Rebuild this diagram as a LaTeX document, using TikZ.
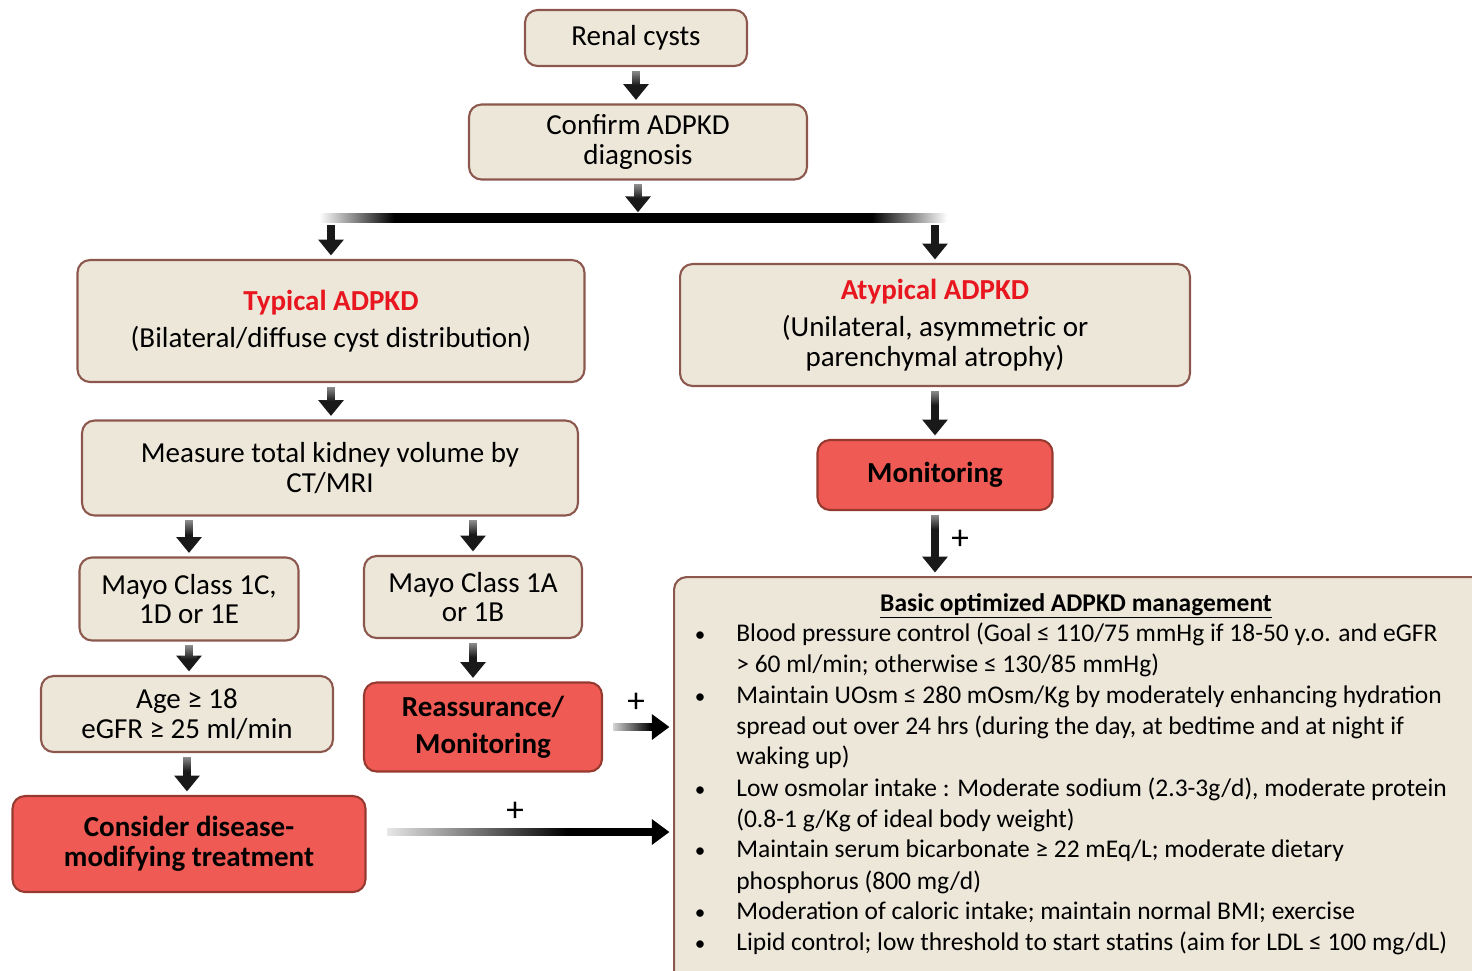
\documentclass[tikz,border=0pt]{standalone}
\usepackage{fontspec}
\setmainfont{Carlito}
\usepackage{tikz}
\usetikzlibrary{arrows.meta,positioning,fadings,calc}
\definecolor{boxfill}{RGB}{237,231,218}
\definecolor{boxline}{RGB}{140,88,78}
\definecolor{redfill}{RGB}{240,90,84}
\definecolor{redline}{RGB}{150,58,48}
\definecolor{titlered}{RGB}{232,22,30}
\tikzfading[name=topfade, top color=transparent!0, bottom color=transparent!100]
\tikzfading[name=leftfade, left color=transparent!0, right color=transparent!100]
\pgfdeclarehorizontalshading{barshade}{100bp}{color(0bp)=(white); color(25bp)=(white); color(31bp)=(black); color(69bp)=(black); color(75bp)=(white); color(100bp)=(white)}
\tikzset{
    box/.style={draw=boxline, fill=boxfill, line width=1.2pt, rounded corners=0.25cm, align=center, inner sep=2pt, font=\fontsize{16.5}{17}\selectfont},
    redbox/.style={box, draw=redline, fill=redfill, font=\fontsize{16.5}{17}\selectfont\bfseries},
    arr/.style={draw=black!90, line width=4.2pt, -{Triangle[width=14pt,length=9pt]}, shorten <=2pt, shorten >=2pt},
    longarr/.style={draw=black, line width=4.5pt, -{Triangle[width=14pt,length=10pt]}, shorten >=2pt},
    veil/.style={fill=white, path fading=leftfade},
    topveil/.style={fill=white, path fading=topfade, opacity=0.6},
    item/.style={anchor=mid west, inner sep=0pt, font=\fontsize{14.5}{16}\selectfont},
    dot/.style={inner sep=0pt, font=\fontsize{12}{14}\selectfont},
    plus/.style={inner sep=0pt, font=\fontsize{20}{20}\selectfont}
}
\begin{document}
\begin{tikzpicture}[x=0.02cm, y=-0.02cm]
    \useasboundingbox (0,0) rectangle (1472,971);

    % Nodes
    \node[box, minimum width=4.44cm, minimum height=1.12cm] (renal) at (636,38) {Renal cysts};
    \node[box, minimum width=6.76cm, minimum height=1.5cm] (confirm) at (638,142) {Confirm ADPKD\\diagnosis};
    \node[box, minimum width=10.14cm, minimum height=2.44cm] (typical) at (331,321) {\textcolor{titlered}{\textbf{Typical ADPKD}}\\[4pt](Bilateral/diffuse cyst distribution)};
    \node[box, minimum width=10.2cm, minimum height=2.44cm] (atypical) at (935,325) {\textcolor{titlered}{\textbf{Atypical ADPKD}}\\[4pt](Unilateral, asymmetric or\\parenchymal atrophy)};
    \node[box, minimum width=9.92cm, minimum height=1.9cm] (measure) at (330,468) {Measure total kidney volume by\\CT/MRI};
    \node[redbox, minimum width=4.7cm, minimum height=1.4cm] (monitor) at (935,475) {Monitoring};
    \node[box, minimum width=4.38cm, minimum height=1.66cm] (mayoC) at (189,599) {Mayo Class 1C,\\1D or 1E};
    \node[box, minimum width=4.36cm, minimum height=1.64cm] (mayoA) at (473,597) {Mayo Class 1A\\or 1B};
    \node[box, minimum width=5.84cm, minimum height=1.52cm] (age) at (187,714) {Age ≥ 18\\eGFR ≥ 25 ml/min};
    \node[redbox, minimum width=4.76cm, minimum height=1.78cm] (reass) at (483,727) {Reassurance/\\[4pt]Monitoring};
    \node[redbox, minimum width=7.06cm, minimum height=1.92cm] (consider) at (189,844) {Consider disease-\\modifying treatment};
    \node[box, anchor=north west, minimum width=16.4cm, minimum height=8.3cm] (basic) at (673,576) {};

    % management list
    \node[inner sep=0pt, font=\fontsize{14.5}{16}\selectfont\bfseries] (basictitle) at (1076,606) {\underline{Basic optimized ADPKD management}};
    \node[dot] (d1) at (700,637) {•};
    \node[item] (l1) at (736,637) {Blood pressure control (Goal ≤ 110/75 mmHg if 18-50 y.o. and eGFR};
    \node[item] (l2) at (736,668) {> 60 ml/min; otherwise ≤ 130/85 mmHg)};
    \node[dot] (d2) at (700,699) {•};
    \node[item] (l3) at (736,699) {Maintain UOsm ≤ 280 mOsm/Kg by moderately enhancing hydration};
    \node[item] (l4) at (736,730) {spread out over 24 hrs (during the day, at bedtime and at night if};
    \node[item] (l5) at (736,760) {waking up)};
    \node[dot] (d3) at (700,792) {•};
    \node[item] (l6) at (736,792) {Low osmolar intake : Moderate sodium (2.3-3g/d), moderate protein};
    \node[item] (l7) at (736,823) {(0.8-1 g/Kg of ideal body weight)};
    \node[dot] (d4) at (700,853) {•};
    \node[item] (l8) at (736,853) {Maintain serum bicarbonate ≥ 22 mEq/L; moderate dietary};
    \node[item] (l9) at (736,885) {phosphorus (800 mg/d)};
    \node[dot] (d5) at (700,915) {•};
    \node[item] (l10) at (736,915) {Moderation of caloric intake; maintain normal BMI; exercise};
    \node[dot] (d6) at (700,946) {•};
    \node[item] (l11) at (736,946) {Lipid control; low threshold to start statins (aim for LDL ≤ 100 mg/dL)};

    \node[plus] (p1) at (960,540) {+};
    \node[plus] (p2) at (636,703) {+};
    \node[plus] (p3) at (515,812) {+};

    % edges
    \coordinate (split) at (confirm.south |- 0,218);
    \coordinate (splitL) at (typical.north |- split);
    \coordinate (splitR) at (atypical.north |- split);
    \shade[shading=barshade] ($(splitL)+(-12,-4.5)$) rectangle ($(splitR)+(12,4.5)$);
    \draw[arr] (renal.south) -- (renal.south |- confirm.north);
    \draw[arr, shorten >=1pt] (confirm.south) -- ($(split)+(0,-4)$);
    \draw[arr, shorten <=4pt] (splitL) -- (typical.north);
    \draw[arr, shorten <=4pt] (splitR) -- (atypical.north);
    \draw[arr] (typical.south) -- (typical.south |- measure.north);
    \draw[arr] (atypical.south) -- (atypical.south |- monitor.north);
    \draw[arr] (monitor.south) -- (monitor.south |- basic.north);
    \draw[arr] (mayoC.north |- measure.south) -- (mayoC.north);
    \draw[arr] (mayoA.north |- measure.south) -- (mayoA.north);
    \draw[arr] (mayoC.south) -- (mayoC.south |- age.north);
    \draw[arr] (mayoA.south) -- (mayoA.south |- reass.north);
    \draw[arr] (age.south) -- (age.south |- consider.north);
    \draw[longarr, shorten <=0.2cm] (reass.east) -- (reass.east -| basic.west);
    \coordinate (c1) at ([yshift=0.24cm]consider.east);
    \draw[longarr, shorten <=0.4cm] (c1) -- (c1 -| basic.west);

    % soft starts of the arrows
    \fill[veil] ($(reass.east)+(2,-8)$) rectangle ($(reass.east)+(48,8)$);
    \fill[veil] ($(c1)+(2,-8)$) rectangle ($(c1)+(200,8)$);
    \foreach \n in {renal, confirm, typical, atypical, monitor, mayoC, mayoA, age}
        \fill[topveil] ($(\n.south)+(-8,1)$) rectangle ($(\n.south)+(8,18)$);
    \fill[topveil] ($(mayoC.north |- measure.south)+(-8,1)$) rectangle ($(mayoC.north |- measure.south)+(8,18)$);
    \fill[topveil] ($(mayoA.north |- measure.south)+(-8,1)$) rectangle ($(mayoA.north |- measure.south)+(8,18)$);
\end{tikzpicture}
\end{document}
